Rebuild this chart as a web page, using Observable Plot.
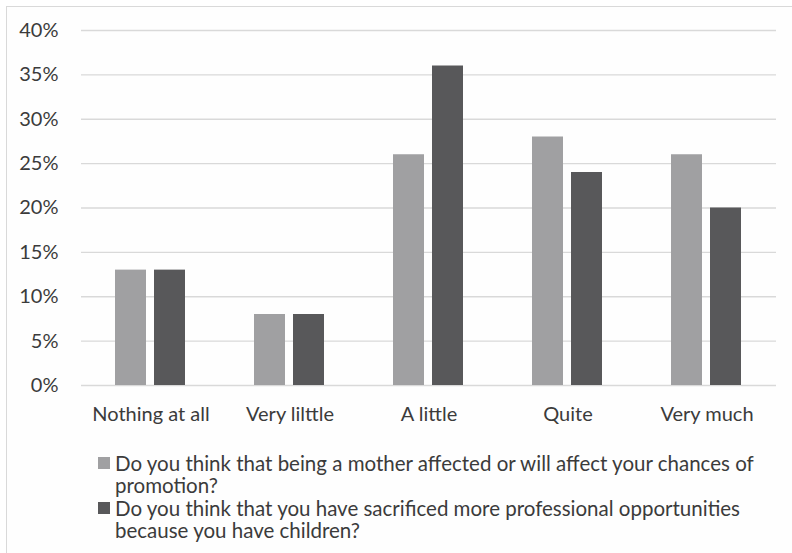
<!DOCTYPE html>
<html>
<head>
<meta charset="utf-8">
<script src="https://cdn.jsdelivr.net/npm/d3@7"></script>
<script src="https://cdn.jsdelivr.net/npm/@observablehq/plot@0.6"></script>
<style>
  html, body { margin: 0; padding: 0; background: #ffffff; overflow: hidden; width: 792px; height: 553px; }
  #frame { position: absolute; left: 6px; top: 6px; width: 800px; height: 560px; border: 1px solid #d9d9d9; box-sizing: border-box; background: #fefefe; }
  #chart { position: absolute; left: 0; top: 0; }
  #legend { position: absolute; left: 91px; top: 445px; font-family: Lato, "Open Sans", sans-serif; font-size: 20.5px; color: #3b3b3b; line-height: 22.4px; white-space: nowrap; }
  .item { position: relative; padding-left: 17px; }
  .sw { position: absolute; left: 0; top: 5px; width: 12px; height: 12px; }
</style>
</head>
<body>
<div id="frame">
  <div id="chart"></div>
  <div id="legend"></div>
</div>
<script>
const categories = ["Nothing at all", "Very lilttle", "A little", "Quite", "Very much"];
const seriesNames = [
  "Do you think that being a mother affected or will affect your chances of promotion?",
  "Do you think that you have sacrificed more professional opportunities because you have children?"
];
const legendLines = [
  ["Do you think that being a mother affected or will affect your chances of", "promotion?"],
  ["Do you think that you have sacrificed more professional opportunities", "because you have children?"]
];
const motherAffected = [13, 8, 26, 28, 26];
const sacrificed = [13, 8, 36, 24, 20];
const yTicks = [0, 5, 10, 15, 20, 25, 30, 35, 40];
const colors = ["#a0a0a2", "#58585a"];

const data = [];
categories.forEach((c, i) => {
  data.push({category: c, series: seriesNames[0], value: motherAffected[i]});
  data.push({category: c, series: seriesNames[1], value: sacrificed[i]});
});

const chart = Plot.plot({
  width: 785,
  height: 425,
  marginTop: 23,
  marginLeft: 72,
  marginRight: 15,
  marginBottom: 47,
  style: {fontFamily: "Lato, 'Open Sans', sans-serif", fontSize: "20px", color: "#3b3b3b", background: "transparent", overflow: "visible"},
  fx: {domain: categories, padding: 0, label: null, axis: "bottom", tickSize: 0, tickPadding: 21},
  x: {domain: seriesNames, paddingInner: 0.2, paddingOuter: 0.85, axis: null},
  y: {domain: [0, 40], ticks: yTicks, tickFormat: d => d + "%", label: null, tickSize: 0, tickPadding: 23},
  color: {domain: seriesNames, range: colors},
  marks: [
    Plot.ruleY(yTicks, {stroke: "#d9d9d9", strokeWidth: 1.3}),
    Plot.barY(data, {fx: "category", x: "series", y: "value", fill: "series"})
  ]
});
document.getElementById("chart").appendChild(chart);

const legend = document.getElementById("legend");
seriesNames.forEach((s, i) => {
  const item = document.createElement("div");
  item.className = "item";
  const sw = document.createElement("span");
  sw.className = "sw";
  sw.style.background = colors[i];
  item.appendChild(sw);
  legendLines[i].forEach((ln, j) => {
    if (j > 0) item.appendChild(document.createElement("br"));
    item.appendChild(document.createTextNode(ln));
  });
  legend.appendChild(item);
});
</script>
</body>
</html>
